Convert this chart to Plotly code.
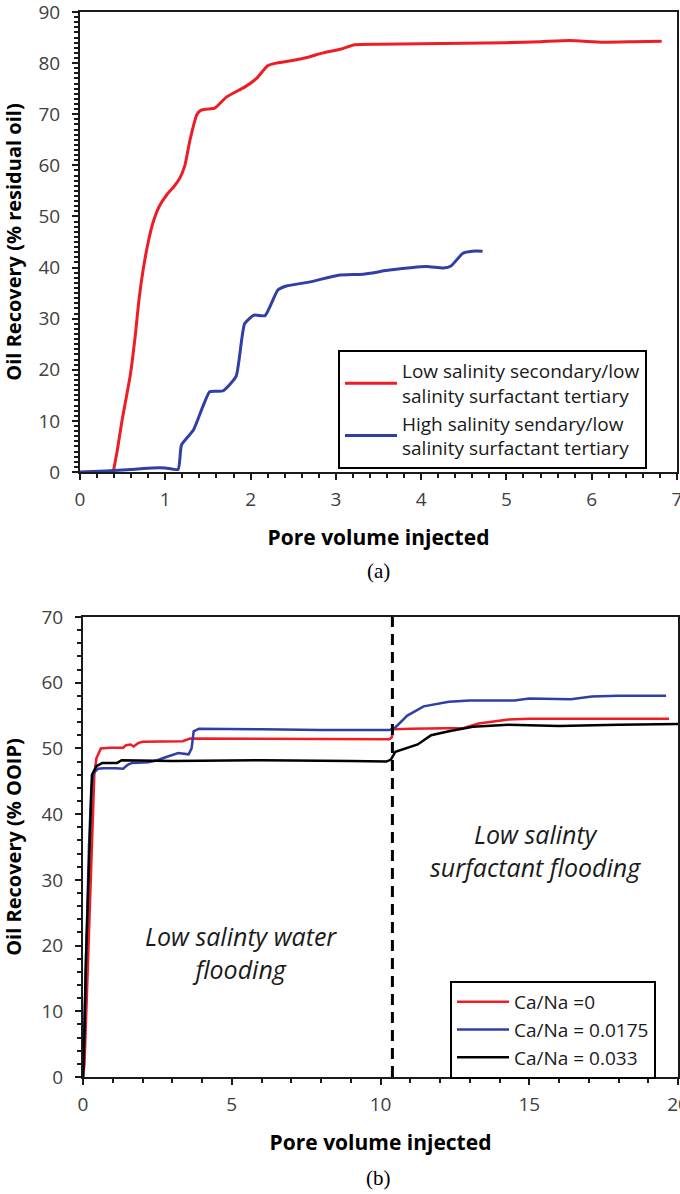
import plotly.graph_objects as go

# ---------------- Panel (a) data ----------------
a_red_x = [0.39, 0.44, 0.49, 0.59, 0.65, 0.69, 0.74, 0.8, 0.86, 0.93, 1.02, 1.1, 1.17, 1.23, 1.29, 1.37, 1.42, 1.49,
           1.58, 1.72, 1.93, 2.07, 2.2, 2.3, 2.42, 2.66, 2.85, 3.05, 3.22, 3.5, 4.0, 4.5, 5.0, 5.4, 5.74,
           6.13, 6.5, 6.82]
a_red_y = [0, 4.5, 9.8, 19, 27, 33.5, 39.5, 45, 49, 52, 54.3, 55.8, 57.5, 60, 65, 69.9, 70.8, 71, 71.2, 73.4, 75.3, 77,
           79.5, 80, 80.3, 81.1, 82, 82.7, 83.6, 83.7, 83.8, 83.9, 84.0, 84.2, 84.4, 84.1, 84.2, 84.3]

a_blue_x = [0, 0.3, 0.6, 0.85, 1.0, 1.15, 1.19, 1.33, 1.44, 1.52, 1.6, 1.68, 1.83, 1.93, 2.04, 2.17, 2.32,
            2.42, 2.7, 3.03, 3.32, 3.63, 4.06, 4.26, 4.35, 4.49, 4.6, 4.72]
a_blue_y = [0, 0.2, 0.5, 0.8, 0.8, 0.5, 5.3, 8.2, 12.8, 15.7, 15.8, 15.9, 18.7, 29, 30.7, 30.6, 35.6, 36.4,
            37.2, 38.5, 38.7, 39.5, 40.2, 39.9, 40.3, 42.8, 43.2, 43.2]

a_names = ["Low salinity secondary/low<br>salinity surfactant tertiary",
           "High salinity sendary/low<br>salinity surfactant tertiary"]

# ---------------- Panel (b) data ----------------
b_red_x = [0, 0.05, 0.15, 0.27, 0.33, 0.38, 0.45, 0.6, 0.9, 1.35, 1.45, 1.6, 1.7, 1.85, 2.0, 2.5, 3.0,
           3.35, 3.6, 4.5, 6, 8, 10.3, 10.38, 10.42, 11, 12, 12.8, 13.3, 14.3, 15, 17, 19.7]
b_red_y = [0, 2, 15, 30, 40, 46, 48.5, 50, 50.1, 50.1, 50.5, 50.6, 50.3, 50.8, 51, 51, 51, 51.1, 51.5,
           51.5, 51.4, 51.4, 51.4, 51.7, 52.9, 53, 53, 53.1, 53.8, 54.4, 54.5, 54.5, 54.5]

b_blue_x = [0, 0.03, 0.1, 0.2, 0.28, 0.35, 0.5, 0.7, 1.1, 1.35, 1.5, 1.65, 2.2, 2.5, 2.8, 3.0, 3.2, 3.55,
            3.65, 3.72, 3.9, 6, 8, 10.3, 10.5, 10.9, 11.45, 12.3, 13, 14.5, 15, 16.4, 17.1, 18, 19.6]
b_blue_y = [0, 5, 20, 35, 44, 46.2, 46.9, 47, 47, 46.9, 47.5, 47.8, 47.9, 48.2, 48.7, 49.0, 49.3, 49.1,
            50, 52.6, 53, 52.9, 52.8, 52.8, 53.2, 55, 56.4, 57.1, 57.3, 57.3, 57.6, 57.5, 57.9, 58, 58]

b_black_x = [0, 0.04, 0.1, 0.18, 0.25, 0.3, 0.45, 0.65, 1.15, 1.3, 3, 6, 9, 10.2, 10.35, 10.5, 11.25,
             11.7, 12.3, 13.1, 14.3, 16, 18, 20]
b_black_y = [0, 5, 18, 30, 42, 46, 47.3, 47.8, 47.8, 48.2, 48.1, 48.2, 48.1, 48.0, 48.3, 49.5, 50.6,
             52, 52.6, 53.3, 53.6, 53.4, 53.6, 53.7]

b_names = ["Ca/Na =0", "Ca/Na = 0.0175", "Ca/Na = 0.033"]
switch_pv = 10.4

RED = "#ee1c25"
BLUE = "#2f3fa6"
BLACK = "#000000"
FONT = "Open Sans"
TICKC = "#404040"

fig = go.Figure()
fig.add_trace(go.Scatter(x=a_red_x, y=a_red_y, mode="lines", name=a_names[0], line=dict(color=RED, width=3, shape="spline", smoothing=0.5), xaxis="x", yaxis="y", legend="legend"))
fig.add_trace(go.Scatter(x=a_blue_x, y=a_blue_y, mode="lines", name=a_names[1], line=dict(color=BLUE, width=3, shape="spline", smoothing=0.5), xaxis="x", yaxis="y", legend="legend"))

fig.add_trace(go.Scatter(x=b_red_x, y=b_red_y, mode="lines", name=b_names[0], line=dict(color=RED, width=2.5), xaxis="x2", yaxis="y2", legend="legend2"))
fig.add_trace(go.Scatter(x=b_blue_x, y=b_blue_y, mode="lines", name=b_names[1], line=dict(color=BLUE, width=2.5), xaxis="x2", yaxis="y2", legend="legend2"))
fig.add_trace(go.Scatter(x=b_black_x, y=b_black_y, mode="lines", name=b_names[2], line=dict(color=BLACK, width=2.5), xaxis="x2", yaxis="y2", legend="legend2"))

fig.add_shape(type="line", xref="x2", yref="y2", x0=switch_pv, x1=switch_pv, y0=0, y1=70,
              line=dict(color="black", width=3, dash="11px,7px"))

W, H = 680, 1194
def px(v): return v / W
def py(v): return 1 - v / H

axis_common = dict(showline=True, linecolor="#1a1a1a", linewidth=2, mirror=True, showgrid=False,
                   zeroline=False, ticks="outside", ticklen=6, tickwidth=2, tickcolor="#1a1a1a",
                   automargin=False, ticklabeloverflow="allow",
                   tickfont=dict(family=FONT, size=19, color=TICKC),
                   title_font=dict(family=FONT, size=21, color="black", weight="bold"))
minor_common = dict(ticklen=4, tickwidth=2, tickcolor="#1a1a1a", ticks="outside")
ytitle_font = dict(family=FONT, size=20, color="black", weight="bold")

fig.update_layout(
    width=W, height=H, margin=dict(l=0, r=0, t=0, b=0),
    paper_bgcolor="white", plot_bgcolor="white",
    xaxis=dict(axis_common, domain=[px(80), px(677)], range=[0, 7], dtick=1, anchor="y",
               minor=dict(minor_common, dtick=0.2), ticklabelstandoff=3,
               title=dict(text="Pore volume injected", standoff=20)),
    yaxis=dict(axis_common, domain=[py(472), py(12)], range=[0, 90], dtick=10, anchor="x",
               minor=dict(minor_common, dtick=1), ticklabelstandoff=8,
               title=dict(text="Oil Recovery (% residual oil)", standoff=14, font=ytitle_font)),
    xaxis2=dict(axis_common, domain=[px(83), px(678)], range=[0, 20], dtick=5, anchor="y2",
                minor=dict(minor_common, dtick=1), ticklabelstandoff=3,
                title=dict(text="Pore volume injected", standoff=20)),
    yaxis2=dict(axis_common, domain=[py(1077), py(617)], range=[0, 70], dtick=10, anchor="x2",
                minor=dict(minor_common, dtick=2), ticklabelstandoff=8,
                title=dict(text="Oil Recovery (% OOIP)", standoff=14, font=ytitle_font)),
    legend=dict(x=px(338), y=py(350), xanchor="left", yanchor="top", bgcolor="white",
                bordercolor="black", borderwidth=2, font=dict(family=FONT, size=19, color="#1a1a1a"),
                tracegroupgap=0, itemwidth=52),
    legend2=dict(x=px(450), y=py(981), xanchor="left", yanchor="top", bgcolor="white",
                 bordercolor="black", borderwidth=2, font=dict(family=FONT, size=19, color="#1a1a1a"),
                 tracegroupgap=0, itemwidth=52),
    showlegend=True,
)

fig.add_annotation(text="Low salinty water<br>flooding", xref="x2", yref="y2", x=5.3, y=19,
                   showarrow=False, font=dict(family=FONT, size=25, color="#1a1a1a", style="italic"))
fig.add_annotation(text="Low salinty<br>surfactant flooding", xref="x2", yref="y2", x=15.2, y=34.4,
                   showarrow=False, font=dict(family=FONT, size=25, color="#1a1a1a", style="italic"))

fig.add_annotation(text="(a)", xref="paper", yref="paper", x=px(378), y=py(571), showarrow=False,
                   xanchor="center", yanchor="middle",
                   font=dict(family="Liberation Serif", size=21, color="black"))
fig.add_annotation(text="(b)", xref="paper", yref="paper", x=px(378), y=py(1178), showarrow=False,
                   xanchor="center", yanchor="middle",
                   font=dict(family="Liberation Serif", size=21, color="black"))

fig.write_html("out.html")
